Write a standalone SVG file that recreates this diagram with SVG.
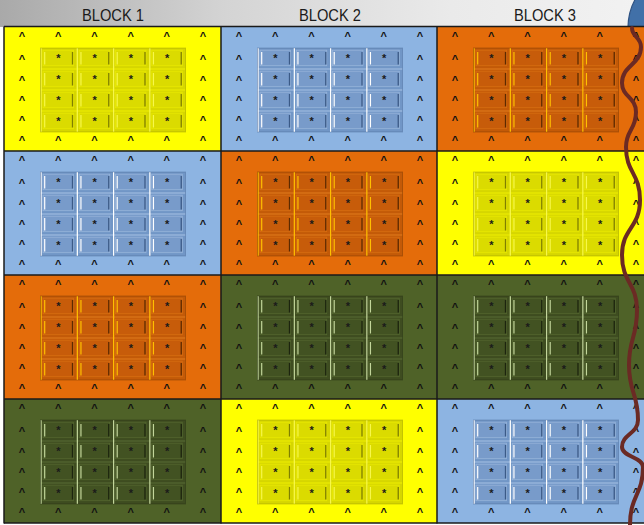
<svg xmlns="http://www.w3.org/2000/svg" xmlns:xlink="http://www.w3.org/1999/xlink" width="644" height="525" viewBox="0 0 644 525">
<style>
.Y{--base:#FFFF00;--bg:#D6D600;--face:#DBDB00;--edge:#E9E900;--hi:#F7F74A;--dk:#7F7F00;--sep:#F0F000}
.B{--base:#8DB4E2;--bg:#7196C6;--face:#789BCA;--edge:#98B5DB;--hi:#FFFFFF;--dk:#3B5A86;--sep:#A8C2E5}
.O{--base:#E46C0A;--bg:#C35A08;--face:#C75C0A;--edge:#D86E12;--hi:#FFC000;--dk:#5C2A00;--sep:#E27C1C}
.G{--base:#4F6228;--bg:#3E4C20;--face:#425222;--edge:#546730;--hi:#C3D69B;--dk:#1C240E;--sep:#596C34}
.base{fill:var(--base)}
.gb{fill:var(--bg)}
.fc{fill:var(--face);stroke:var(--edge);stroke-width:0.8}
.hi{stroke:var(--hi);stroke-width:1.2}
.dk{stroke:var(--dk);stroke-width:1.3}
.sep{stroke:var(--sep);stroke-width:1}
.gout{fill:none;stroke:var(--dk);stroke-opacity:0.35;stroke-width:1}
.ast{font-family:"Liberation Sans",Arial,sans-serif;font-size:11px;font-weight:bold;fill:#1a1a1a;text-anchor:middle}
.car{font-family:"Liberation Sans",Arial,sans-serif;font-size:11px;font-weight:bold;fill:#111;text-anchor:middle}
.hdr{font-family:"Liberation Sans",Arial,sans-serif;font-size:16px;fill:#1a1a1a;text-anchor:middle}
.bd{stroke:#1a1a1a;stroke-width:1.5;fill:none}
</style>
<defs>
<linearGradient id="hg" x1="0" y1="0" x2="1" y2="0">
<stop offset="0" stop-color="#A9A9A9"/>
<stop offset="0.35" stop-color="#D4D4D4"/>
<stop offset="0.7" stop-color="#EAEAEA"/>
<stop offset="1" stop-color="#F2F2F2"/>
</linearGradient>
<clipPath id="hc"><rect x="0" y="0" width="644" height="27"/></clipPath>
<g id="btn">
<rect class="gb" width="36.25" height="21"/>
<rect class="fc" x="2.5" y="2.2" width="30.5" height="15.5"/>
<line class="hi" x1="4.2" y1="4" x2="4.2" y2="16.5"/>
<line class="dk" x1="32" y1="4" x2="32" y2="16.5"/>
<text class="ast" x="18" y="14.3">*</text>
</g>
<g id="grid4">
<use href="#btn" x="0" y="0"/><use href="#btn" x="36.25" y="0"/><use href="#btn" x="72.5" y="0"/><use href="#btn" x="108.75" y="0"/>
<use href="#btn" x="0" y="21"/><use href="#btn" x="36.25" y="21"/><use href="#btn" x="72.5" y="21"/><use href="#btn" x="108.75" y="21"/>
<use href="#btn" x="0" y="42"/><use href="#btn" x="36.25" y="42"/><use href="#btn" x="72.5" y="42"/><use href="#btn" x="108.75" y="42"/>
<use href="#btn" x="0" y="63"/><use href="#btn" x="36.25" y="63"/><use href="#btn" x="72.5" y="63"/><use href="#btn" x="108.75" y="63"/>
<line class="sep" x1="0" y1="21" x2="145" y2="21"/>
<line class="sep" x1="0" y1="42" x2="145" y2="42"/>
<line class="sep" x1="0" y1="63" x2="145" y2="63"/>
<line class="hi" x1="0.6" y1="0" x2="0.6" y2="84"/>
<line class="hi" x1="36.85" y1="0" x2="36.85" y2="84"/>
<line class="hi" x1="73.1" y1="0" x2="73.1" y2="84"/>
<line class="hi" x1="109.35" y1="0" x2="109.35" y2="84"/>
<rect class="gout" x="0" y="0" width="145" height="84"/>
</g>
<g id="inner">
<text class="car" x="18 54.2 90.4 126.6 162.8 199" y="13.3">^^^^^^</text>
<text class="car" x="18 199" y="35.8">^^</text>
<text class="car" x="18 199" y="56.6">^^</text>
<text class="car" x="18 199" y="77.3">^^</text>
<text class="car" x="18 199" y="97.3">^^</text>
<text class="car" x="18 54.2 90.4 126.6 162.8 199" y="117.3">^^^^^^</text>
<use href="#grid4" x="36.5" y="21"/>
</g>
</defs>
<rect width="644" height="525" fill="#FFFFFF"/>
<g id="header">
<rect x="0" y="0" width="644" height="27" fill="url(#hg)"/>
<circle cx="687.5" cy="28" r="59.5" fill="#4170A8" stroke="#2E5283" stroke-width="1.2" clip-path="url(#hc)"/>
<text class="hdr" x="113" y="21" textLength="62" lengthAdjust="spacingAndGlyphs">BLOCK 1</text>
<text class="hdr" x="330" y="21" textLength="62" lengthAdjust="spacingAndGlyphs">BLOCK 2</text>
<text class="hdr" x="545" y="21" textLength="62" lengthAdjust="spacingAndGlyphs">BLOCK 3</text>
</g>
<g id="r1c1" class="Y" transform="translate(4,27)"><rect class="base" width="217" height="124"/><use href="#inner"/></g>
<g id="r1c2" class="B" transform="translate(221,27)"><rect class="base" width="216" height="124"/><use href="#inner"/></g>
<g id="r1c3" class="O" transform="translate(437,27)"><rect class="base" width="217" height="124"/><use href="#inner"/></g>
<g id="r2c1" class="B" transform="translate(4,151)"><rect class="base" width="217" height="124"/><use href="#inner"/></g>
<g id="r2c2" class="O" transform="translate(221,151)"><rect class="base" width="216" height="124"/><use href="#inner"/></g>
<g id="r2c3" class="Y" transform="translate(437,151)"><rect class="base" width="217" height="124"/><use href="#inner"/></g>
<g id="r3c1" class="O" transform="translate(4,275)"><rect class="base" width="217" height="124"/><use href="#inner"/></g>
<g id="r3c2" class="G" transform="translate(221,275)"><rect class="base" width="216" height="124"/><use href="#inner"/></g>
<g id="r3c3" class="G" transform="translate(437,275)"><rect class="base" width="217" height="124"/><use href="#inner"/></g>
<g id="r4c1" class="G" transform="translate(4,399)"><rect class="base" width="217" height="124"/><use href="#inner"/></g>
<g id="r4c2" class="Y" transform="translate(221,399)"><rect class="base" width="216" height="124"/><use href="#inner"/></g>
<g id="r4c3" class="B" transform="translate(437,399)"><rect class="base" width="217" height="124"/><use href="#inner"/></g>
<g id="borders">
<line class="bd" x1="4" y1="26.5" x2="644" y2="26.5"/>
<line class="bd" x1="4" y1="151" x2="644" y2="151"/>
<line class="bd" x1="4" y1="275" x2="644" y2="275"/>
<line class="bd" x1="4" y1="399" x2="644" y2="399"/>
<line class="bd" x1="4" y1="523" x2="644" y2="523"/>
<line class="bd" x1="4" y1="26.5" x2="4" y2="523.5"/>
<line class="bd" x1="221" y1="26.5" x2="221" y2="523.5"/>
<line class="bd" x1="437" y1="26.5" x2="437" y2="523.5"/>
</g>
<g id="connectors">
<path d="M632,28 C632,37 641,37 641,47 C641,65 622,65 622,83 C622,97 636,97 636,112 C636,130 626,130 626,147 C626,173 640,173 640,200 C640,228 622,228 622,255 C622,283 637,283 637,310 C637,338 629,338 629,365 C629,393 638,393 638,420 C638,434 622,434 622,447 C622,457 643,457 643,467 C643,495 630,495 630,525" fill="none" stroke="#6B2A24" stroke-width="4" stroke-linecap="round"/>
</g>
</svg>
